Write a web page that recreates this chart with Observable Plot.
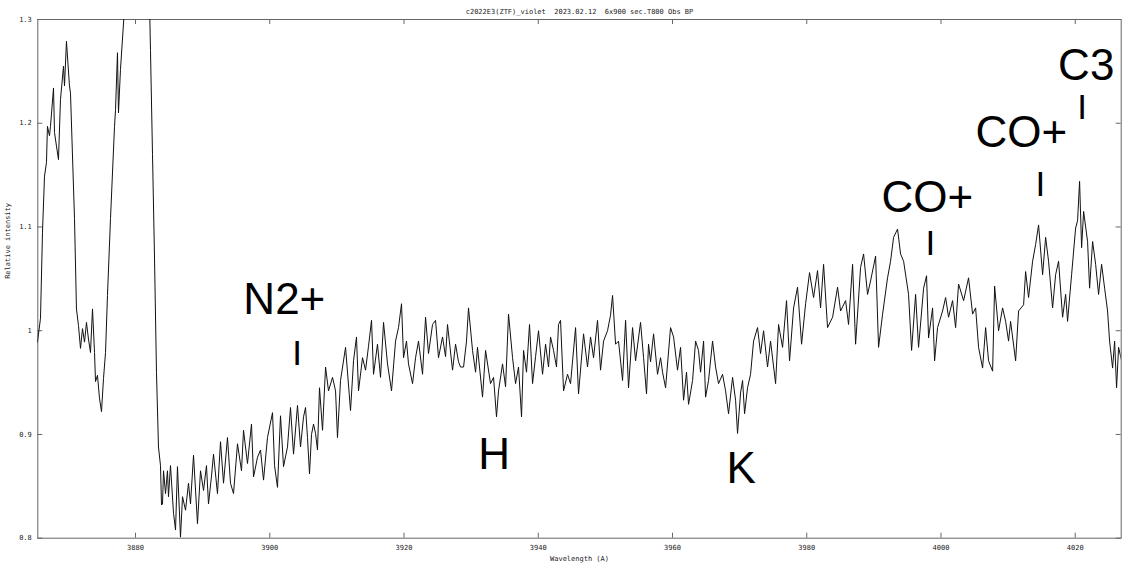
<!DOCTYPE html>
<html><head><meta charset="utf-8">
<script src="https://cdn.jsdelivr.net/npm/d3@7"></script>
<script src="https://cdn.jsdelivr.net/npm/@observablehq/plot@0.6"></script>
<style>body{margin:0;background:#fff}#chart svg{display:block}</style>
</head><body><div id="chart"></div>
<script>
// [wavelength (A), relative intensity]
const spectrum = [
[3865.39,0.989],[3865.84,1.012],[3866.14,1.095],[3866.44,1.149],[3866.73,1.162],[3866.88,1.197],[3867.18,1.188],[3867.33,1.197],
[3867.78,1.234],[3867.93,1.191],[3868.22,1.178],[3868.52,1.165],[3868.82,1.223],[3869.27,1.255],[3869.42,1.236],[3869.71,1.279],
[3870.16,1.236],[3870.31,1.229],[3870.91,1.108],[3871.20,1.021],[3871.50,1.005],[3871.80,0.983],[3872.10,1.002],[3872.40,0.989],
[3872.69,1.008],[3872.99,0.992],[3873.29,0.979],[3873.59,1.021],[3873.89,0.979],[3874.04,0.951],[3874.33,0.957],[3874.63,0.935],
[3874.93,0.922],[3875.23,0.954],[3875.53,0.979],[3875.82,1.034],[3876.27,1.108],[3876.87,1.197],[3877.02,1.213],[3877.31,1.268],
[3877.46,1.210],[3877.76,1.252],[3878.65,1.340],[3879.25,1.400],[3879.85,1.460],[3880.44,1.520],[3881.04,1.550],[3881.63,1.460],
[3882.23,1.270],[3882.53,1.170],[3882.83,1.070],[3883.12,0.960],[3883.42,0.888],[3883.72,0.870],[3883.87,0.832],[3884.02,0.833],
[3884.17,0.865],[3884.47,0.843],[3884.76,0.865],[3884.91,0.840],[3885.21,0.870],[3885.66,0.824],[3885.96,0.808],[3886.25,0.869],
[3886.70,0.801],[3887.00,0.840],[3887.45,0.827],[3887.89,0.853],[3888.19,0.833],[3888.64,0.880],[3889.23,0.814],[3889.68,0.865],
[3890.13,0.846],[3890.57,0.870],[3890.87,0.833],[3891.32,0.860],[3891.62,0.881],[3892.21,0.843],[3892.66,0.893],[3893.11,0.853],
[3893.70,0.897],[3894.15,0.853],[3894.60,0.843],[3895.19,0.891],[3895.79,0.865],[3896.09,0.904],[3896.68,0.872],[3897.28,0.910],
[3897.58,0.859],[3898.17,0.878],[3898.62,0.885],[3899.07,0.856],[3899.66,0.897],[3900.41,0.921],[3900.71,0.870],[3901.15,0.849],
[3901.60,0.918],[3902.05,0.869],[3902.64,0.888],[3903.09,0.926],[3903.54,0.881],[3904.13,0.928],[3904.58,0.888],[3905.03,0.917],
[3905.33,0.926],[3905.62,0.897],[3905.92,0.862],[3906.22,0.900],[3906.52,0.910],[3906.82,0.901],[3907.11,0.885],[3907.41,0.945],
[3907.86,0.904],[3908.31,0.965],[3908.75,0.942],[3909.35,0.955],[3909.80,0.942],[3910.09,0.897],[3910.54,0.952],[3911.29,0.984],
[3912.03,0.923],[3912.48,0.971],[3912.92,0.994],[3913.22,0.942],[3913.82,0.974],[3914.27,0.962],[3914.71,0.985],[3915.16,1.010],
[3915.46,0.958],[3916.05,0.987],[3916.50,0.955],[3916.95,1.008],[3917.54,0.968],[3918.14,0.942],[3918.74,0.990],[3919.18,1.003],
[3919.63,1.026],[3919.93,0.974],[3920.37,0.990],[3920.67,0.968],[3921.27,0.949],[3921.72,0.974],[3922.16,0.990],[3922.76,0.958],
[3923.21,1.013],[3923.65,0.978],[3924.25,1.006],[3924.70,1.010],[3925.14,0.974],[3925.74,0.994],[3926.19,0.975],[3926.48,1.006],
[3927.23,0.962],[3927.68,0.987],[3928.12,0.970],[3928.42,0.965],[3928.87,0.965],[3929.31,0.990],[3929.61,1.022],[3930.21,0.981],
[3930.66,0.960],[3930.95,0.984],[3931.70,0.936],[3932.15,0.981],[3932.89,0.949],[3933.34,0.955],[3933.78,0.917],[3934.08,0.942],
[3934.68,0.968],[3935.13,0.946],[3935.57,1.016],[3936.17,0.974],[3936.62,0.949],[3937.06,0.965],[3937.51,0.917],[3937.81,0.981],
[3938.25,0.960],[3938.70,1.006],[3939.15,0.949],[3939.60,0.975],[3940.04,1.000],[3940.64,0.958],[3941.09,0.987],[3941.53,0.965],
[3941.83,0.994],[3942.28,0.981],[3942.72,0.965],[3943.02,1.006],[3943.32,1.010],[3943.77,0.942],[3944.36,0.958],[3944.81,0.949],
[3945.56,1.003],[3946.00,0.939],[3946.75,0.997],[3947.34,0.965],[3947.79,0.994],[3948.24,0.974],[3948.83,1.010],[3949.28,0.962],
[3949.73,0.990],[3950.32,1.000],[3950.77,1.015],[3951.07,1.034],[3951.52,0.987],[3951.96,0.990],[3952.56,0.952],[3953.01,1.010],
[3953.45,0.945],[3954.05,1.003],[3954.50,0.971],[3955.24,1.008],[3955.69,0.974],[3956.13,0.939],[3956.43,0.987],[3956.73,0.970],
[3957.18,0.997],[3957.77,0.958],[3958.22,0.974],[3958.52,0.960],[3958.97,0.945],[3959.71,1.003],[3960.16,0.994],[3960.75,0.962],
[3961.20,0.984],[3961.65,0.933],[3962.09,0.960],[3962.39,0.929],[3962.99,0.952],[3963.44,0.990],[3963.88,0.981],[3964.18,0.960],
[3964.63,0.990],[3964.93,0.936],[3965.37,0.952],[3965.97,0.990],[3966.42,0.965],[3966.86,0.949],[3967.46,0.958],[3967.91,0.942],
[3968.35,0.920],[3968.95,0.955],[3969.40,0.933],[3969.69,0.901],[3970.14,0.940],[3970.44,0.952],[3970.74,0.920],[3971.18,0.945],
[3971.63,0.958],[3972.08,0.990],[3972.67,1.003],[3973.12,0.978],[3973.57,1.000],[3974.16,0.965],[3974.61,0.990],[3975.36,0.949],
[3975.80,1.006],[3976.40,0.984],[3976.99,1.029],[3977.44,0.971],[3978.04,1.022],[3978.63,1.042],[3979.23,0.987],[3979.83,1.026],
[3980.42,1.056],[3981.02,1.032],[3981.61,1.058],[3982.06,1.022],[3982.51,1.064],[3983.10,1.003],[3983.85,1.013],[3984.59,1.042],
[3985.04,1.019],[3985.79,1.029],[3986.23,1.006],[3986.83,1.064],[3987.28,0.987],[3988.02,1.061],[3988.47,1.074],[3989.06,1.035],
[3989.51,1.048],[3990.26,1.072],[3990.70,0.984],[3991.30,1.016],[3992.04,1.051],[3992.49,1.067],[3992.94,1.090],[3993.53,1.098],
[3993.98,1.074],[3994.43,1.067],[3995.17,1.035],[3995.62,0.981],[3996.22,1.035],[3996.66,0.984],[3997.41,1.041],[3997.85,1.053],
[3998.15,0.993],[3998.75,1.022],[3999.05,0.971],[3999.49,1.003],[4000.24,1.019],[4000.69,1.032],[4001.13,1.013],[4001.73,1.029],
[4002.18,1.003],[4002.62,1.045],[4003.37,1.029],[4004.11,1.051],[4004.71,1.016],[4005.16,1.022],[4005.60,0.984],[4006.20,0.964],
[4006.65,1.003],[4007.09,0.971],[4007.69,0.961],[4007.99,1.043],[4008.58,1.000],[4009.18,1.022],[4009.63,1.009],[4010.07,0.990],
[4010.37,1.009],[4011.12,0.971],[4011.56,1.019],[4012.31,1.025],[4012.61,1.057],[4013.05,1.032],[4013.65,1.067],[4014.10,1.083],
[4014.54,1.102],[4015.14,1.054],[4015.59,1.090],[4016.03,1.067],[4016.63,1.022],[4017.08,1.054],[4017.52,1.067],[4018.12,1.013],
[4018.57,1.035],[4018.86,1.009],[4019.46,1.054],[4020.06,1.099],[4020.35,1.106],[4020.65,1.144],[4020.95,1.080],[4021.25,1.115],
[4021.84,1.086],[4022.14,1.041],[4022.59,1.086],[4023.04,1.064],[4023.48,1.035],[4023.93,1.064],[4024.38,1.041],[4024.82,1.019],
[4025.12,0.990],[4025.57,0.964],[4025.87,0.990],[4026.16,0.945],[4026.46,0.984],[4026.91,0.971]
];
const xTicks = [3880, 3900, 3920, 3940, 3960, 3980, 4000, 4020];
const yTicks = [0.8, 0.9, 1.0, 1.1, 1.2, 1.3];
const xDomain = [3865.44, 4026.85];
const yDomain = [0.8, 1.3];
const lineNames = [
  {text: "N2+", wl: 3902.17, y: 1.0295},
  {text: "H",   wl: 3933.44, y: 0.8805},
  {text: "K",   wl: 3970.24, y: 0.867},
  {text: "CO+", wl: 3997.95, y: 1.1284},
  {text: "CO+", wl: 4011.96, y: 1.191},
  {text: "C3",  wl: 4021.64, y: 1.2556}
];
const lineMarks = [
  {wl: 3904.09, y: 0.978},
  {wl: 3998.40, y: 1.0835},
  {wl: 4014.79, y: 1.1404},
  {wl: 4021.04, y: 1.215}
];
const title = "c2022E3(ZTF)_violet  2023.02.12  6x900 sec.T800 Obs BP";
const xLabel = "Wavelength (A)";
const yLabel = "Relative intensity";

const W = 1134, H = 567;
const mL = 37.3, mR = 13.3, mT = 19, mB = 29.3;
const innerW = W - mL - mR, innerH = H - mT - mB;
const mono = "'DejaVu Sans Mono', 'Liberation Mono', monospace";
const axisColor = "#666";

const chart = Plot.plot({
  width: W, height: H,
  marginLeft: mL, marginRight: mR, marginTop: mT, marginBottom: mB,
  style: {background: "#fff", color: "#000", fontFamily: mono},
  x: {type: "linear", domain: xDomain},
  y: {type: "linear", domain: yDomain},
  marks: [
    Plot.frame({stroke: axisColor}),
    Plot.tickX(xTicks, {x: d => d, insetTop: innerH - 5, stroke: axisColor}),
    Plot.tickX(xTicks, {x: d => d, insetBottom: innerH - 5, stroke: axisColor}),
    Plot.tickY(yTicks, {y: d => d, insetRight: innerW - 5, stroke: axisColor}),
    Plot.tickY(yTicks, {y: d => d, insetLeft: innerW - 5, stroke: axisColor}),
    Plot.axisX({ticks: xTicks, tickSize: 0, tickPadding: 7, fontSize: 7, fontFamily: mono, tickFormat: d => String(d), label: null, fill: "#222"}),
    Plot.axisY({ticks: yTicks, tickSize: 0, tickPadding: 6, fontSize: 7, fontFamily: mono, tickFormat: d => String(d), label: null, fill: "#222"}),
    Plot.line(spectrum, {x: d => d[0], y: d => d[1], stroke: "#111", strokeWidth: 1, clip: true}),
    Plot.text(lineNames, {x: "wl", y: "y", text: "text", fontSize: 44, fontFamily: "'Liberation Sans', Arial, sans-serif", fill: "#000", lineAnchor: "middle"}),
    Plot.text(lineMarks, {x: "wl", y: "y", text: () => "I", fontSize: 35, fontFamily: "'Liberation Sans', Arial, sans-serif", fill: "#000", lineAnchor: "middle"}),
    Plot.text([title], {frameAnchor: "top", dy: -10, text: d => d, fontSize: 7, fontFamily: mono, fill: "#222"}),
    Plot.text([xLabel], {frameAnchor: "bottom", dy: 23, text: d => d, fontSize: 7, fontFamily: mono, fill: "#222"}),
    Plot.text([yLabel], {frameAnchor: "left", dx: -30, rotate: -90, text: d => d, fontSize: 7, fontFamily: mono, fill: "#222"})
  ]
});
document.getElementById("chart").append(chart);
</script>
</body></html>
